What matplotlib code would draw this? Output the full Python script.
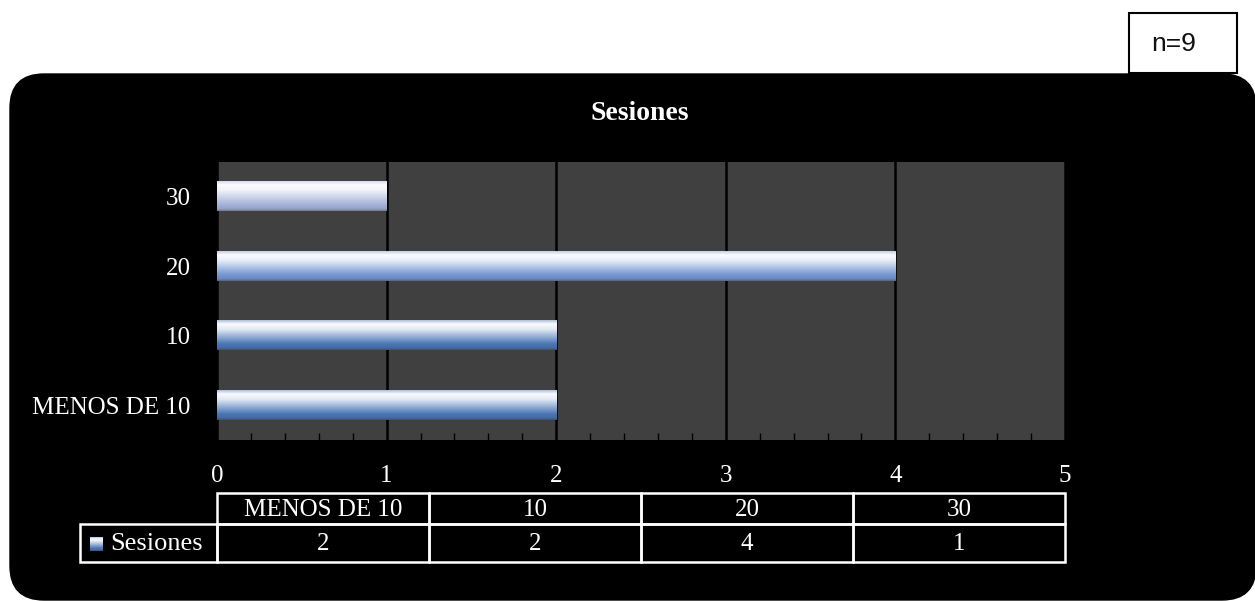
import numpy as np
import matplotlib
matplotlib.use('Agg')
import matplotlib.pyplot as plt
from matplotlib.patches import FancyBboxPatch, Rectangle
from matplotlib.colors import to_rgb

# datos
categorias = ['MENOS DE 10', '10', '20', '30']
sesiones = [2, 2, 4, 1]
serie = 'Sesiones'
titulo = 'Sesiones'
nota = 'n=9'
x_ticks = [0, 1, 2, 3, 4, 5]

# colores base (parte baja del degradado) de cada barra
colores_base = ['#4a76b4', '#4a76b4', '#7496d0', '#a4b2d8']

W, H = 1255, 601
SERIF = ['Liberation Serif', 'DejaVu Serif']
# plot area en pixeles de la imagen
PX0, PX1, PY0, PY1 = 217, 1065, 162, 440


def degradado(base, n=64):
    """columna RGB: borde claro arriba, blanco, base, borde oscuro abajo."""
    b = np.array(to_rgb(base))
    w = np.ones(3)
    t = np.linspace(0, 1, n)
    stops = [(0.0, 0.55 * w + 0.45 * b), (0.12, 0.97 * w + 0.03 * b),
             (0.30, 0.85 * w + 0.15 * b), (0.80, b), (0.93, b * 0.92),
             (1.0, b * 0.70)]
    out = np.zeros((n, 1, 3))
    for k in range(3):
        out[:, 0, k] = np.interp(t, [s[0] for s in stops], [s[1][k] for s in stops])
    return out


fig = plt.figure(figsize=(W / 100, H / 100), dpi=100, facecolor='white')

# lienzo en pixeles (fondo negro redondeado, tabla, recuadro n=9)
bg = fig.add_axes([0, 0, 1, 1], zorder=0)
bg.set_xlim(0, W)
bg.set_ylim(H, 0)
bg.axis('off')
bg.add_patch(FancyBboxPatch((10, 74), 1246, 526,
                            boxstyle='round,pad=0,rounding_size=34',
                            facecolor='black', edgecolor='black', lw=1))
bg.add_patch(Rectangle((1129, 13), 108, 60, facecolor='white',
                       edgecolor='black', lw=1.5))
bg.text(1151, 44, nota, fontsize=19, family='Liberation Sans',
        ha='left', va='center', color='#111111')
bg.text(640, 113, titulo, fontsize=20, fontweight='bold', family=SERIF,
        ha='center', va='center', color='white')

# tabla de datos
ncol = len(categorias)
bordes = np.linspace(PX0, PX1, ncol + 1)
fila0, fila1, fila2 = 493, 524, 562
lw_t = 1.8
for i, (cat, v) in enumerate(zip(categorias, sesiones)):
    x0, x1 = bordes[i], bordes[i + 1]
    bg.add_patch(Rectangle((x0, fila0), x1 - x0, fila1 - fila0, fill=False,
                           edgecolor='white', lw=lw_t))
    bg.add_patch(Rectangle((x0, fila1), x1 - x0, fila2 - fila1, fill=False,
                           edgecolor='white', lw=lw_t))
    bg.text((x0 + x1) / 2, (fila0 + fila1) / 2 + 1, cat, fontsize=18,
            family=SERIF, color='white', ha='center', va='center')
    bg.text((x0 + x1) / 2, (fila1 + fila2) / 2 + 1, str(v), fontsize=18,
            family=SERIF, color='white', ha='center', va='center')
bg.add_patch(Rectangle((80, fila1), PX0 - 80, fila2 - fila1, fill=False,
                       edgecolor='white', lw=lw_t))
bg.imshow(degradado(colores_base[0]), extent=(90, 103, 551, 537),
          aspect='auto', zorder=3)
bg.text(110, (fila1 + fila2) / 2 + 1, serie, fontsize=19, family=SERIF,
        color='white', ha='left', va='center')
bg.set_xlim(0, W)
bg.set_ylim(H, 0)

# grafico de barras
ax = fig.add_axes([PX0 / W, 1 - PY1 / H, (PX1 - PX0) / W, (PY1 - PY0) / H],
                  zorder=1)
ax.set_facecolor('#404040')
y = np.arange(len(categorias))
barras = ax.barh(y, sesiones, height=0.42, color='none', zorder=2)
for b, c in zip(barras, colores_base):
    x0, y0 = b.get_x(), b.get_y()
    ax.imshow(degradado(c), extent=(x0, x0 + b.get_width(), y0, y0 + b.get_height()),
              aspect='auto', origin='upper', zorder=2, interpolation='bilinear')
ax.set_xlim(0, 5)
ax.set_ylim(-0.5, len(categorias) - 0.5)
ax.set_xticks(x_ticks)
ax.set_xticks(np.arange(0, 5.01, 0.2), minor=True)
ax.set_yticks(y, categorias)
ax.grid(axis='x', color='black', lw=1.8, zorder=1)
ax.set_axisbelow(True)
for s in ax.spines.values():
    s.set_visible(False)
ax.tick_params(axis='x', which='major', length=0, pad=18, labelsize=18,
               labelcolor='white')
ax.tick_params(axis='x', which='minor', direction='in', length=5, width=1,
               color='black')
ax.tick_params(axis='y', direction='in', length=5, width=1.2, color='black',
               pad=19, labelsize=18, labelcolor='white')
for lab in ax.get_xticklabels() + ax.get_yticklabels():
    lab.set_family(SERIF)

fig.savefig('out.png', dpi=100, facecolor='white')
